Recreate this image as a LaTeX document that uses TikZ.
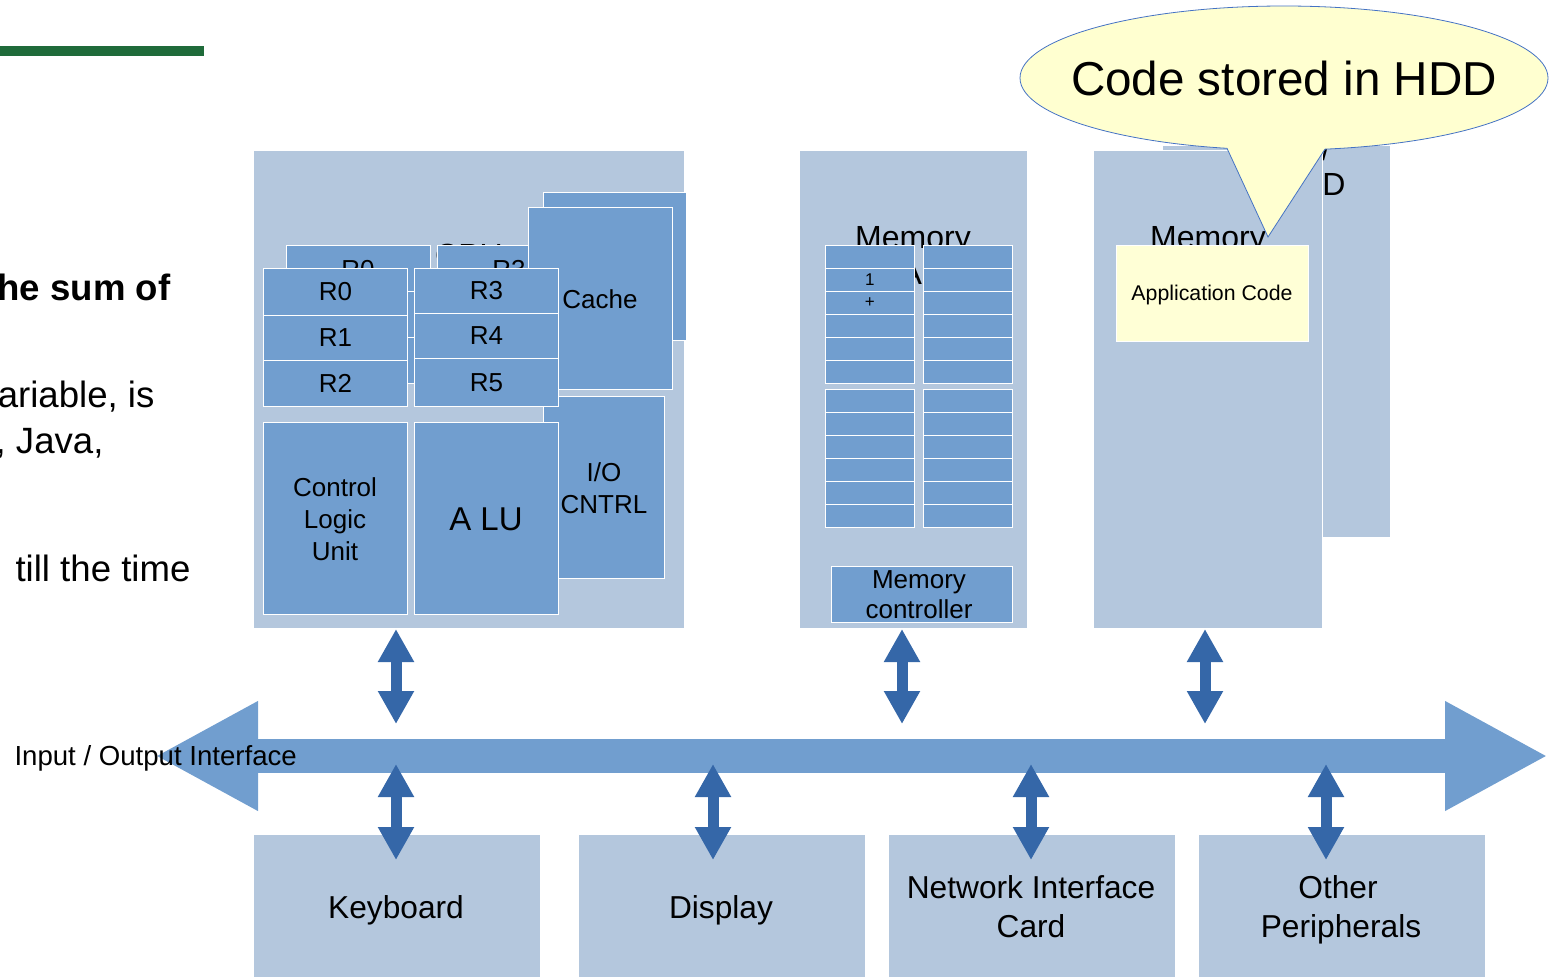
\documentclass[tikz,border=0pt]{standalone}
\usepackage{fontspec}
\setmainfont{Liberation Sans}
\usetikzlibrary{arrows.meta,shapes.geometric}
\definecolor{lightbox}{RGB}{180,199,221}
\definecolor{midbox}{RGB}{113,158,207}
\definecolor{darkarr}{RGB}{53,103,168}
\definecolor{callfill}{RGB}{255,255,208}
\definecolor{callline}{RGB}{68,114,196}
\definecolor{appfill}{RGB}{255,255,214}
\definecolor{gline}{RGB}{31,107,58}
\begin{document}
\begin{tikzpicture}[x=1pt,y=-1pt,
  lbox/.style={fill=lightbox,draw=white,line width=0.7pt,inner sep=0pt,anchor=north west},
  mbox/.style={fill=midbox,draw=white,line width=0.8pt,inner sep=0pt,anchor=north west},
  abox/.style={fill=appfill,draw=white,line width=0.7pt,inner sep=0pt,anchor=north west},
  f17/.style={font=\fontsize{17}{20}\selectfont},
  f21/.style={font=\fontsize{21.3}{25}\selectfont},
  f24/.style={font=\fontsize{26}{30}\selectfont},
  f26/.style={font=\fontsize{26}{32}\selectfont,align=center},
  f26b/.style={font=\fontsize{26}{30}\selectfont,align=center},
  f27/.style={font=\fontsize{27.6}{32}\selectfont},
  f31/.style={font=\fontsize{31.7}{39}\selectfont,align=center},
  f32/.style={font=\fontsize{32}{36}\selectfont},
  f33/.style={font=\fontsize{33}{38}\selectfont},
  f36/.style={font=\fontsize{36.6}{42}\selectfont},
  f48/.style={font=\fontsize{47.6}{56}\selectfont},
  dblarrow/.style={draw=darkarr,line width=11pt,
     {Triangle[length=33pt,width=34pt]}-{Triangle[length=33pt,width=34pt]}},
  busarrow/.style={draw=midbox,line width=34pt,
     {Triangle[length=103pt,width=102pt]}-{Triangle[length=103pt,width=102pt]}}
]
\path[use as bounding box] (0,0) rectangle (1555,977);

% green rule and left text
\fill[gline] (0,46) rectangle (204,56);
\node[anchor=base east,font=\fontsize{36.6}{42}\selectfont\bfseries] (t1) at (174,300) {he sum of};
\node[f36,anchor=base east] (t2) at (158,407) {ariable, is};
\node[f36,anchor=base east] (t3) at (107,453) {, Java,};
\node[f36,anchor=base east] (t4) at (194,581) {till the time};

% bus
\coordinate (busL) at (155,756);
\coordinate (busR) at (1548,756);
\draw[busarrow] (busL) -- (busR);
\node[f27,anchor=base west] (iolbl) at (11,765) {Input / Output Interface};

% CPU block
\node[lbox,minimum width=431,minimum height=478] (cpu) at (253,150) {};
\node[f32,anchor=base] (cputxt) at (469,266) {CPU};
\node[mbox,minimum width=144,minimum height=46] (bR0) at (286,245) {};
\node[f24,anchor=base] at (358,278) {R0};
\node[mbox,minimum width=144,minimum height=46] (bR1) at (286,291) {};
\node[mbox,minimum width=144,minimum height=46] (bR2) at (286,337) {};
\node[mbox,minimum width=144,minimum height=46] (bR3) at (437,245) {};
\node[f24,anchor=base] at (509,278) {R3};
\node[mbox,minimum width=144,minimum height=46] (bR4) at (437,291) {};
\node[mbox,minimum width=144,minimum height=46] (bR5) at (437,337) {};
\node[mbox,minimum width=143,minimum height=148] (cacheb) at (543,192) {};
\node[mbox,minimum width=144,minimum height=182] (cache) at (528,207) {};
\node[f24] at (600,299) {Cache};
\node[mbox,minimum width=121,minimum height=182] (ioc) at (543,396) {};
\node[f26] at (604,488) {I/O\\CNTRL};
\node[mbox,minimum width=144,minimum height=47] (R0) at (263,268) {};
\node[f24] at (R0) {R0};
\node[mbox,minimum width=144,minimum height=45] (R1) at (263,315) {};
\node[f24] at (R1) {R1};
\node[mbox,minimum width=144,minimum height=46] (R2) at (263,360) {};
\node[f24] at (R2) {R2};
\node[mbox,minimum width=144,minimum height=45] (R3) at (414,268) {};
\node[f24] at (R3) {R3};
\node[mbox,minimum width=144,minimum height=45] (R4) at (414,313) {};
\node[f24] at (R4) {R4};
\node[mbox,minimum width=144,minimum height=48] (R5) at (414,358) {};
\node[f24] at (R5) {R5};
\node[mbox,minimum width=144,minimum height=192] (clu) at (263,422) {};
\node[f26] at (335,519) {Control\\Logic\\Unit};
\node[mbox,minimum width=144,minimum height=192] (alu) at (414,422) {};
\node[f33] at (486,519) {A LU};

% RAM block
\node[lbox,minimum width=228,minimum height=478] (ram) at (799,150) {};
\node[f32,anchor=base] (ramt1) at (913,248) {Memory};
\node[f32,anchor=base] (ramt2) at (913,284) {RAM};
\foreach \r in {0,...,5}{
  \node[mbox,minimum width=89,minimum height=23] (ma\r) at (825,{245+23*\r}) {};
  \node[mbox,minimum width=89,minimum height=23] (mb\r) at (923,{245+23*\r}) {};
  \node[mbox,minimum width=89,minimum height=23] (mc\r) at (825,{389+23*\r}) {};
  \node[mbox,minimum width=89,minimum height=23] (md\r) at (923,{389+23*\r}) {};
}
\node[f17] at (ma1) {1};
\node[f17] at (ma2) {+};
\node[mbox,minimum width=181,minimum height=56] (mctl) at (831,566) {};
\node[f26b] at (919,595) {Memory\\controller};

% HDD and memory
\node[lbox,minimum width=228,minimum height=392] (hdd) at (1162,145) {};
\node[f32,anchor=base] at (1326,160) {/};
\node[f32,anchor=base] at (1334,195) {D};
\node[lbox,minimum width=229,minimum height=478] (mem2) at (1093,150) {};
\node[f32,anchor=base] at (1208,248) {Memory};
\node[abox,minimum width=192,minimum height=96] (app) at (1116,245) {};
\node[f21] at (1212,295) {Application Code};

% bottom peripherals
\node[lbox,minimum width=287,minimum height=143] (kbd) at (253,834) {};
\node[f31,anchor=base] at (396,918) {Keyboard};
\node[lbox,minimum width=287,minimum height=143] (disp) at (578,834) {};
\node[f31,anchor=base] at (721,918) {Display};
\node[lbox,minimum width=287,minimum height=143] (nic) at (888,834) {};
\node[f31,anchor=base] at (1031,898) {Network Interface};
\node[f31,anchor=base] at (1031,937) {Card};
\node[lbox,minimum width=287,minimum height=143] (oth) at (1198,834) {};
\node[f31,anchor=base] at (1338,898) {Other};
\node[f31,anchor=base] at (1341,937) {Peripherals};

% vertical double arrows
\coordinate (a1t) at (396,629); \coordinate (a1b) at (396,724);
\coordinate (a2t) at (902,629); \coordinate (a2b) at (902,724);
\coordinate (a3t) at (1205,629); \coordinate (a3b) at (1205,724);
\coordinate (b1t) at (396,764); \coordinate (b1b) at (396,860);
\coordinate (b2t) at (713,764); \coordinate (b2b) at (713,860);
\coordinate (b3t) at (1031,764); \coordinate (b3b) at (1031,860);
\coordinate (b4t) at (1326,764); \coordinate (b4b) at (1326,860);
\draw[dblarrow] (a1t) -- (a1b);
\draw[dblarrow] (a2t) -- (a2b);
\draw[dblarrow] (a3t) -- (a3b);
\draw[dblarrow] (b1t) -- (b1b);
\draw[dblarrow] (b2t) -- (b2b);
\draw[dblarrow] (b3t) -- (b3b);
\draw[dblarrow] (b4t) -- (b4b);

% callout
\node[ellipse,fill=callfill,draw=callline,line width=0.8pt,minimum width=528,minimum height=144,inner sep=0pt] (call) at (1284,78) {};
\coordinate (pl) at (1227,148.3);
\coordinate (pr) at (1325,149.1);
\coordinate (ptip) at (1268,237);
\fill[callfill] (1229,140) -- (pl) -- (ptip) -- (pr) -- (1323,140) -- cycle;
\draw[callline,line width=0.8pt] (pl) -- (ptip) -- (pr);
\node[f48] (calltxt) at (1284,78) {Code stored in HDD};
\end{tikzpicture}
\end{document}
